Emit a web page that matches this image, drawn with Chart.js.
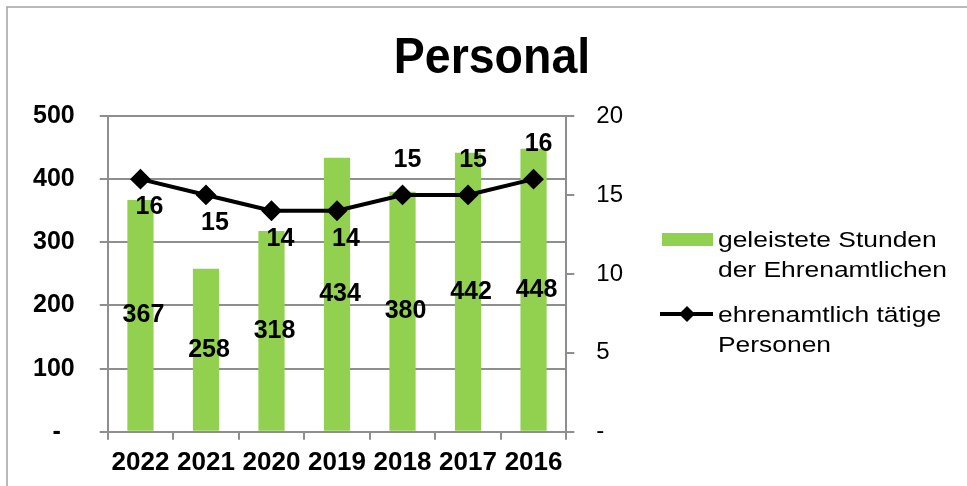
<!DOCTYPE html>
<html lang="de">
<head>
<meta charset="utf-8">
<title>Personal</title>
<script src="https://cdn.jsdelivr.net/npm/chart.js@4.4.1/dist/chart.umd.min.js"></script>
<style>
    html, body { margin: 0; padding: 0; background: #fff; }
    #wrap { width: 967px; height: 486px; }
</style>
</head>
<body>
<div id="wrap"><canvas id="personalChart" width="967" height="486"></canvas></div>
<script>
// Data
const years = ['2022', '2021', '2020', '2019', '2018', '2017', '2016'];
const hours = [367, 258, 318, 434, 380, 442, 448];   // geleistete Stunden
const persons = [16, 15, 14, 14, 15, 15, 16];        // ehrenamtlich tätige Personen
const hoursTicks = [0, 100, 200, 300, 400, 500];
const personTicks = [0, 5, 10, 15, 20];

const FONT = "'Liberation Sans', Arial, sans-serif";
const GREEN = '#92D050';
const GRID = '#8e8e8e';

// where the person labels sit relative to their point
const personLabelPos = ['below', 'below', 'below', 'below', 'above', 'above', 'above'];

// Frame, title and legend (drawn by hand so the texts can wrap like the original)
const framePlugin = {
    id: 'frame',
    beforeDraw(chart) {
        const ctx = chart.ctx;
        ctx.save();
        ctx.strokeStyle = '#a3a3a3';
        ctx.lineWidth = 1.5;
        ctx.beginPath();
        ctx.moveTo(7, chart.height);
        ctx.lineTo(7, 7);
        ctx.lineTo(chart.width, 7);
        ctx.stroke();
        ctx.restore();
    },
    afterDraw(chart) {
        const ctx = chart.ctx;
        ctx.save();
        ctx.fillStyle = '#000';

        // title
        ctx.font = 'bold 50px ' + FONT;
        ctx.textAlign = 'center';
        ctx.textBaseline = 'alphabetic';
        ctx.save();
        ctx.translate(492, 73);
        ctx.scale(0.93, 1);
        ctx.fillText('Personal', 0, 0);
        ctx.restore();

        // legend
        const legendText = (txt, x, y) => {
            ctx.save();
            ctx.translate(x, y);
            ctx.scale(1.2, 1);
            ctx.font = '22px ' + FONT;
            ctx.textAlign = 'left';
            ctx.fillText(txt, 0, 0);
            ctx.restore();
        };
        ctx.fillStyle = GREEN;
        ctx.fillRect(662, 233, 51, 13);
        ctx.fillStyle = '#000';
        legendText('geleistete Stunden', 718, 247);
        legendText('der Ehrenamtlichen', 718, 277);

        ctx.strokeStyle = '#000';
        ctx.lineWidth = 4;
        ctx.beginPath();
        ctx.moveTo(660, 314);
        ctx.lineTo(713, 314);
        ctx.stroke();
        ctx.beginPath();
        ctx.moveTo(679, 314);
        ctx.lineTo(687, 306);
        ctx.lineTo(695, 314);
        ctx.lineTo(687, 322);
        ctx.closePath();
        ctx.fill();
        legendText('ehrenamtlich tätige', 718, 322);
        legendText('Personen', 718, 352);
        ctx.restore();
    }
};

// Value labels on bars and points
const labelPlugin = {
    id: 'valueLabels',
    afterDatasetsDraw(chart) {
        const ctx = chart.ctx;
        ctx.save();
        ctx.font = 'bold 25px ' + FONT;
        ctx.fillStyle = '#000';
        ctx.textAlign = 'center';
        ctx.textBaseline = 'middle';

        chart.getDatasetMeta(0).data.forEach((bar, i) => {
            ctx.fillText(hours[i], bar.x + 3, (bar.y + bar.base) / 2);
        });
        chart.getDatasetMeta(1).data.forEach((pt, i) => {
            const below = personLabelPos[i] === 'below';
            ctx.fillText(persons[i], pt.x + (below ? 9 : 5), pt.y + (below ? 28 : -35));
        });
        ctx.restore();
    }
};

const ctx = document.getElementById('personalChart').getContext('2d');
new Chart(ctx, {
    type: 'bar',
    data: {
        labels: years,
        datasets: [{
            type: 'bar',
            label: 'geleistete Stunden der Ehrenamtlichen',
            data: hours,
            backgroundColor: GREEN,
            borderWidth: 0,
            barPercentage: 0.4,
            categoryPercentage: 1,
            yAxisID: 'y',
            order: 2
        }, {
            type: 'line',
            label: 'ehrenamtlich tätige Personen',
            data: persons,
            borderColor: '#000',
            backgroundColor: '#000',
            borderWidth: 4,
            tension: 0,
            pointStyle: 'rectRot',
            pointRadius: 9,
            pointBorderWidth: 2,
            pointBackgroundColor: '#000',
            pointBorderColor: '#000',
            yAxisID: 'y1',
            order: 1
        }]
    },
    options: {
        responsive: false,
        animation: false,
        devicePixelRatio: 1,
        layout: {
            // scale fit() counts the tick padding twice, hence the smaller values
            padding: { left: 8, right: 322, top: 116, bottom: 1 }
        },
        plugins: {
            legend: { display: false },
            title: { display: false },
            tooltip: { enabled: false }
        },
        scales: {
            x: {
                grid: {
                    display: true,
                    drawOnChartArea: false,
                    drawTicks: true,
                    tickLength: 8,
                    color: GRID,
                    lineWidth: 2,
                    offset: true
                },
                border: { display: true, color: GRID, width: 2 },
                ticks: {
                    color: '#000',
                    font: { family: FONT, size: 26, weight: 'bold' },
                    padding: 7,
                    maxRotation: 0,
                    autoSkip: false
                }
            },
            y: {
                position: 'left',
                min: hoursTicks[0],
                max: hoursTicks[hoursTicks.length - 1],
                afterBuildTicks: (scale) => { scale.ticks = hoursTicks.map(v => ({ value: v })); },
                grid: { color: GRID, lineWidth: 2, tickLength: 8 },
                border: { display: true, color: GRID, width: 2 },
                ticks: {
                    color: '#000',
                    font: { family: FONT, size: 25, weight: 'bold' },
                    padding: 25,
                    callback: (v) => v === 0 ? '-  ' : v
                }
            },
            y1: {
                position: 'right',
                min: personTicks[0],
                max: personTicks[personTicks.length - 1],
                afterBuildTicks: (scale) => { scale.ticks = personTicks.map(v => ({ value: v })); },
                grid: { drawOnChartArea: false, color: GRID, lineWidth: 2, tickLength: 8 },
                border: { display: true, color: GRID, width: 2 },
                ticks: {
                    color: '#000',
                    font: { family: FONT, size: 24 },
                    padding: 22,
                    callback: (v) => v === 0 ? '-' : v
                }
            }
        }
    },
    plugins: [framePlugin, labelPlugin]
});
</script>
</body>
</html>
